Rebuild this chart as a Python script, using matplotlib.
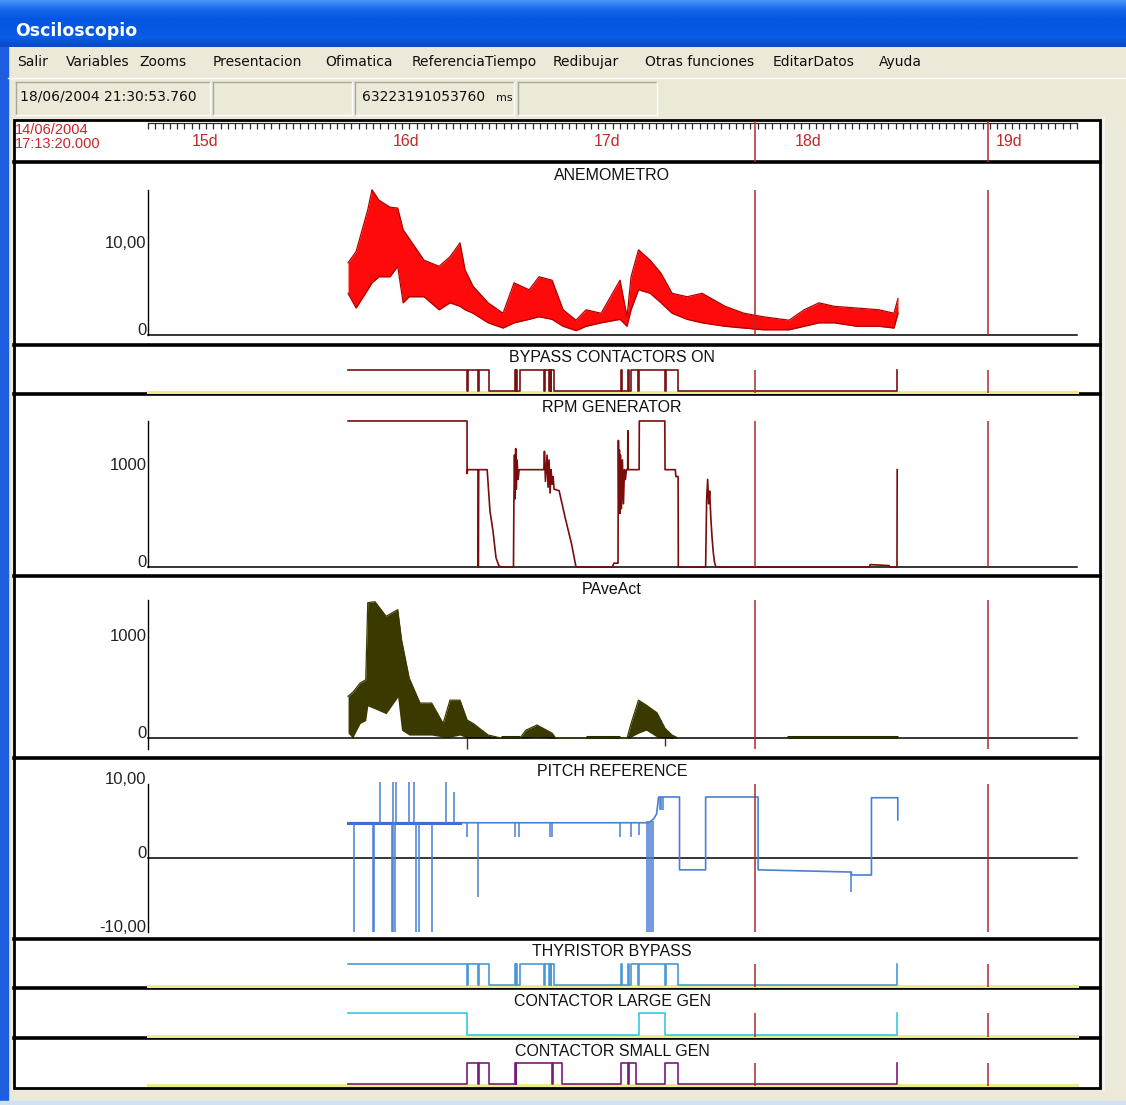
import numpy as np
import matplotlib
matplotlib.use('Agg')
import matplotlib.pyplot as plt
from matplotlib.patches import Rectangle
from matplotlib.colors import LinearSegmentedColormap
from matplotlib import font_manager

# ---------------- data (time in days since 14/06/2004 17:13:20) ----------------
T0_DAY = 14 + (17 + 13 / 60 + 20 / 3600) / 24
day_labels = [15, 16, 17, 18, 19]
cursor_t = [3.020, 4.179]

anemo_t = [0.995, 1.035, 1.093, 1.114, 1.149, 1.204, 1.242, 1.269, 1.299, 1.373,
           1.448, 1.502, 1.552, 1.577, 1.617, 1.692, 1.766, 1.821, 1.896, 1.945,
           2.010, 2.065, 2.129, 2.179, 2.254, 2.348, 2.383, 2.403, 2.440, 2.498,
           2.552, 2.607, 2.682, 2.756, 2.871, 2.965, 3.060, 3.189, 3.264, 3.338,
           3.413, 3.527, 3.637, 3.711, 3.731]
anemo_hi = [8.3, 9.6, 14.4, 16.7, 15.5, 14.7, 14.6, 12.1, 11.1, 8.6,
            7.9, 9.0, 10.6, 7.5, 5.6, 3.7, 2.5, 6.0, 5.2, 6.7,
            6.3, 2.9, 1.7, 2.9, 2.5, 6.3, 2.1, 6.7, 9.8, 8.6,
            7.1, 4.8, 4.4, 4.8, 3.3, 2.5, 2.1, 1.7, 2.9, 3.7,
            3.3, 3.1, 2.9, 2.5, 4.2]
anemo_lo = [4.8, 3.1, 5.2, 6.0, 6.7, 6.7, 7.9, 3.7, 4.4, 4.4,
            2.9, 3.7, 3.3, 2.9, 2.5, 1.4, 0.8, 1.4, 1.8, 2.1,
            1.8, 1.0, 0.5, 1.0, 1.4, 1.8, 1.0, 2.9, 5.2, 4.8,
            3.7, 2.5, 1.8, 1.4, 1.0, 0.8, 0.6, 0.6, 1.0, 1.4,
            1.4, 1.0, 1.0, 0.8, 2.5]

bypass_t = [0.995, 1.587, 1.590, 1.642, 1.645, 1.697, 1.826, 1.829, 1.833, 1.836,
            1.851, 1.970, 1.973, 1.995, 1.999, 2.003, 2.007, 2.020, 2.353, 2.356,
            2.388, 2.391, 2.403, 2.438, 2.441, 2.572, 2.575, 2.637, 3.726, 3.728]
bypass_v = [1, 0, 1, 0, 1, 0, 1, 0, 1, 0,
            1, 0, 1, 0, 1, 0, 1, 0, 1, 0,
            1, 0, 1, 0, 1, 0, 1, 0, 1, 1]

rpm_t = [0.995, 1.587, 1.587, 1.590, 1.642, 1.643, 1.645, 1.687, 1.701, 1.716,
         1.731, 1.746, 1.761, 1.818, 1.820, 1.823, 1.826, 1.829, 1.832, 1.836,
         1.841, 1.846, 1.969, 1.972, 1.977, 1.985, 1.990, 1.995, 2.000, 2.005,
         2.010, 2.015, 2.020, 2.045, 2.075, 2.107, 2.128, 2.135, 2.310, 2.318,
         2.338, 2.340, 2.342, 2.345, 2.348, 2.350, 2.355, 2.360, 2.365, 2.370,
         2.375, 2.380, 2.386, 2.387, 2.389, 2.443, 2.444, 2.571, 2.572, 2.623,
         2.626, 2.637, 2.638, 2.774, 2.779, 2.784, 2.789, 2.794, 2.800, 2.806,
         2.812, 2.818, 2.825, 3.590, 3.592, 3.687, 3.690, 3.726, 3.727]
rpm_v = [1500, 1500, 960, 1000, 1000, 0, 1000, 1000, 577, 371,
         96, 10, 0, 0, 650, 1150, 700, 1216, 800, 1100,
         900, 1000, 1000, 1188, 880, 1150, 820, 1100, 760, 1000,
         850, 930, 800, 784, 508, 237, 10, 0, 0, 40,
         40, 1300, 700, 1200, 550, 1150, 600, 1100, 650, 1000,
         900, 1000, 1000, 1400, 1000, 1000, 1500, 1500, 1000, 1000,
         930, 930, 0, 0, 700, 900, 650, 780, 500, 300,
         150, 50, 0, 0, 25, 15, 0, 0, 1000]

pave_t = [0.995, 1.018, 1.055, 1.083, 1.093, 1.129, 1.184, 1.242, 1.261, 1.299,
          1.353, 1.411, 1.468, 1.502, 1.552, 1.587, 1.617, 1.692, 1.756, 1.851,
          1.879, 1.935, 2.010, 2.028, 2.383, 2.403, 2.440, 2.478, 2.532, 2.572,
          2.607, 2.637]
pave_hi = [430, 470, 566, 600, 1395, 1405, 1255, 1323, 1013, 618,
           360, 360, 150, 390, 390, 186, 150, 31, 0, 0,
           80, 134, 50, 0, 0, 150, 390, 340, 260, 100,
           30, 0]
pave_lo = [50, 0, 150, 180, 330, 300, 250, 420, 80, 30,
           30, 30, 10, 10, 30, 0, 0, 0, 0, 0,
           0, 10, 0, 0, 0, 10, 50, 80, 10, 0,
           0, 0]
pave_dip_t = [1.587, 2.572]
pave_dip_v = [-110, -80]
pave_flat_start = [1.756, 2.179, 3.179]
pave_flat_end = [1.851, 2.348, 3.731]
pave_flat_level = 12

pitch_t = [0.995, 2.489, 2.515, 2.530, 2.540, 2.644, 2.644, 2.774, 2.774, 3.035,
           3.035, 3.499, 3.499, 3.599, 3.599, 3.730, 3.730]
pitch_v = [4.8, 4.8, 5.3, 6.0, 8.3, 8.3, -1.6, -1.6, 8.3, 8.3,
           -1.6, -1.9, -2.3, -2.3, 8.2, 8.2, 5.2]
pitch_spike_t = [1.025, 1.117, 1.123, 1.152, 1.214, 1.219, 1.221, 1.229, 1.234, 1.297,
                 1.323, 1.333, 1.350, 1.412, 1.483, 1.522, 1.587, 1.642, 1.825, 1.845,
                 1.998, 2.010, 2.348, 2.402, 2.443, 2.483, 2.493, 2.502, 2.512, 2.545,
                 2.552, 2.562, 3.499]
pitch_spike_from = [4.8, 4.8, 4.8, 4.8, 4.8, 4.8, 4.8, 4.8, 4.8, 4.8,
                    4.8, 4.8, 4.8, 4.8, 4.8, 4.8, 4.8, 4.8, 4.8, 4.8,
                    4.8, 4.8, 4.8, 4.8, 4.8, 5.0, 5.0, 5.0, 5.0, 8.3,
                    8.3, 8.3, -1.9]
pitch_spike_to = [-10, -10, -10, 10.4, -10, 10.4, -10, -10, 10.4, 10.4,
                  10.4, -10, -10, -10, 10.4, 9.0, 2.9, -5.3, 2.9, 2.9,
                  2.9, 2.9, 2.9, 2.9, 3.2, -10, -10, -10, -10, 6.5,
                  6.5, 6.5, -4.6]
pitch_dense_end = 1.55

thyr_t = list(bypass_t)
thyr_v = list(bypass_v)

large_t = [0.995, 1.587, 2.443, 2.572, 3.726, 3.728]
large_v = [1, 0, 1, 0, 1, 1]

small_t = [0.995, 1.587, 1.642, 1.645, 1.697, 1.826, 1.829, 1.832, 2.010, 2.013,
           2.060, 2.353, 2.388, 2.392, 2.428, 2.572, 2.637, 3.726, 3.728]
small_v = [0, 1, 0, 1, 0, 1, 0, 1, 0, 1,
           0, 1, 0, 1, 0, 1, 0, 1, 1]

menu_items = ['Salir', 'Variables', 'Zooms', 'Presentacion', 'Ofimatica',
              'ReferenciaTiempo', 'Redibujar', 'Otras funciones', 'EditarDatos', 'Ayuda']
menu_x = [17, 66, 139, 213, 325, 412, 553, 645, 773, 879]

# ---------------- layout ----------------
W, H = 1126, 1105
T_LEFT, T_RIGHT = -0.667, 4.736   # panel 14..1100 px
T_END = 4.622                      # end of time window
PANEL_X0, PANEL_X1 = 14, 1100
RED = '#c42828'
CUR = '#b02a2a'

names = {f.name for f in font_manager.fontManager.ttflist}
if 'Liberation Sans Narrow' in names:
    NARROW, NS_TITLE, NS_VAL = ['Liberation Sans Narrow', 'DejaVu Sans'], 14, 13.5
else:
    NARROW, NS_TITLE, NS_VAL = ['Liberation Sans', 'DejaVu Sans'], 11.5, 12
REG = ['Liberation Sans', 'DejaVu Sans']

fig = plt.figure(figsize=(W / 100, H / 100), dpi=100)
bg = fig.add_axes([0, 0, 1, 1])
bg.axis('off')
bg.add_patch(Rectangle((0, 0), W, H, color='#ECE9D8', zorder=0))

# window title bar
xp = LinearSegmentedColormap.from_list('xp', ['#4a94f6', '#1766ea', '#0556e2', '#0656e2', '#0a5de6', '#0848c8'])
bg.imshow(np.linspace(0, 1, 60)[:, None], extent=[0, W, 47, 0], cmap=xp, aspect='auto', zorder=1)
bg.text(15, 31, 'Osciloscopio', color='white', fontsize=12.5, fontweight='bold',
        family='DejaVu Sans', va='center', ha='left', zorder=2)
bg.add_patch(Rectangle((0, 47), 8, H - 47, color='#1d5ee0', zorder=1))
bg.add_patch(Rectangle((0, 1101), W, 4, color='#cfe2f3', zorder=1))
bg.plot([1104, 1104], [118, 1090], color='#f6f5ee', lw=1.5)

# menu
for lab, x in zip(menu_items, menu_x):
    bg.text(x, 62, lab, fontsize=10, family='DejaVu Sans', va='center', ha='left', color='#101010')
bg.plot([8, W], [78, 78], color='white', lw=1)


def sunken(x0, y0, x1, y1):
    bg.plot([x0, x1], [y0, y0], color='#aca899', lw=1)
    bg.plot([x0, x0], [y0, y1], color='#aca899', lw=1)
    bg.plot([x0, x1], [y1, y1], color='white', lw=1)
    bg.plot([x1, x1], [y0, y1], color='white', lw=1)


sunken(16, 82, 210, 115)
sunken(213, 82, 352, 115)
sunken(355, 82, 514, 115)
sunken(518, 82, 657, 115)
bg.text(20, 97, '18/06/2004 21:30:53.760', fontsize=10, family='DejaVu Sans', va='center', color='#101010')
bg.text(362, 97, '63223191053760', fontsize=10, family='DejaVu Sans', va='center', color='#101010')
bg.text(496, 98, 'ms', fontsize=8, family='DejaVu Sans', va='center', color='#101010')

# main white panel and separators
bg.add_patch(Rectangle((PANEL_X0, 120), PANEL_X1 - PANEL_X0, 968, facecolor='white',
                       edgecolor='black', lw=2, zorder=1))
for y in [162, 345, 394, 576, 758, 939, 988, 1038]:
    bg.plot([PANEL_X0, PANEL_X1], [y, y], color='black', lw=2.6, zorder=3)
bg.set_xlim(0, W)
bg.set_ylim(H, 0)


def panel(top, bottom, ylim):
    ax = fig.add_axes([PANEL_X0 / W, 1 - bottom / H, (PANEL_X1 - PANEL_X0) / W, (bottom - top) / H])
    ax.set_xlim(T_LEFT, T_RIGHT)
    ax.set_ylim(*ylim)
    ax.axis('off')
    ax.patch.set_alpha(0)
    return ax


def title(top, txt):
    bg.text(612, top + 13, txt, ha='center', va='center', fontsize=NS_TITLE, family=NARROW, color='#111111', zorder=4)


def analog(top, bottom, ylim, axis_rng, labels, name):
    ax = panel(top, bottom, ylim)
    ax.plot([0, 0], axis_rng, color='black', lw=1)
    ax.plot([0, T_END], [0, 0], color='black', lw=1.1)
    for v, s in labels:
        ax.text(-0.008, v, s, ha='right', va='baseline', fontsize=NS_VAL, family=NARROW, color='#222222')
    ax.vlines(cursor_t, axis_rng[0], axis_rng[1], color=CUR, lw=1.1, zorder=5)
    title(top, name)
    return ax


def digital(top, bottom, t, v, color, name):
    ax = panel(top, bottom, (-0.15, 2.19))
    ax.plot([0, T_END], [-0.07, -0.07], color='#ecec88', lw=2.2)
    ax.step(t, v, where='post', color=color, lw=1.2)
    ax.vlines(cursor_t, -0.1, 1.0, color=CUR, lw=1.1, zorder=5)
    title(top, name)
    return ax


# ruler
ax_r = panel(120, 162, (0, 1))
ticks = np.linspace(0, T_END, 129)
ax_r.vlines(ticks, 0.79, 0.93, color='#2a2a2a', lw=0.9)
ax_r.plot([0, T_END], [0.93, 0.93], color='#2a2a2a', lw=0.9)
for d in day_labels:
    ax_r.text(d - T0_DAY, 0.5, f'{d}d', ha='center', va='center', color=RED, fontsize=11.5, family=REG)
ax_r.vlines(cursor_t, 0.0, 0.97, color=CUR, lw=1.1)
bg.text(15, 130, '14/06/2004', color=RED, fontsize=10.5, family=REG, va='center', zorder=4)
bg.text(15, 144, '17:13:20.000', color=RED, fontsize=10.5, family=REG, va='center', zorder=4)

# ANEMOMETRO
ax = analog(162, 345, (-1.15, 19.9), (0, 16.7), [(0, '0'), (10, '10,00')], 'ANEMOMETRO')
ax.fill_between(anemo_t, anemo_lo, anemo_hi, color='#ff0a0a', lw=0)
ax.plot(anemo_t, anemo_hi, color='#b00000', lw=0.9)
ax.plot(anemo_t, anemo_lo, color='#b00000', lw=0.9)

# BYPASS CONTACTORS ON
digital(345, 394, bypass_t, bypass_v, '#7a1010', 'BYPASS CONTACTORS ON')

# RPM GENERATOR
ax = analog(394, 576, (-92, 1777), (0, 1500), [(0, '0'), (1000, '1000')], 'RPM GENERATOR')
ax.plot(rpm_t, rpm_v, color='#7a0c0c', lw=1.2)

# PAveAct
ax = analog(576, 758, (-206, 1670), (-110, 1420), [(0, '0'), (1000, '1000')], 'PAveAct')
ax.fill_between(pave_t, pave_lo, pave_hi, color='#3a3a00', lw=0)
ax.plot(pave_t, pave_hi, color='#3a3a00', lw=0.9)
ax.vlines(pave_dip_t, 0, pave_dip_v, color='#3a3a00', lw=1)
ax.hlines([pave_flat_level] * len(pave_flat_start), pave_flat_start, pave_flat_end, color='#2a2a00', lw=2.2)

# PITCH REFERENCE
ax = analog(758, 939, (-11.0, 13.6), (-10, 10), [(-10, '-10,00'), (0, '0'), (10, '10,00')], 'PITCH REFERENCE')
ax.plot(pitch_t, pitch_v, color='#4a7fd2', lw=1.2)
ax.plot([pitch_t[0], pitch_dense_end], [pitch_v[0], pitch_v[0]], color='#3a70d0', lw=2.2)
ax.vlines(pitch_spike_t, pitch_spike_from, pitch_spike_to, color='#4a7fd2', lw=1.1)

# binary channels
digital(939, 988, thyr_t, thyr_v, '#4c98d4', 'THYRISTOR BYPASS')
digital(988, 1038, large_t, large_v, '#36c8e0', 'CONTACTOR LARGE GEN')
digital(1038, 1087, small_t, small_v, '#7a1a7a', 'CONTACTOR SMALL GEN')

fig.savefig('out.png', dpi=100)
